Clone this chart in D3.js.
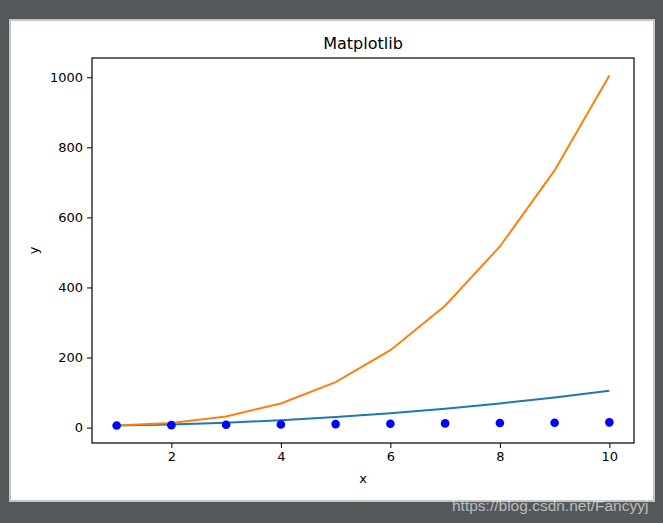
<!DOCTYPE html>
<html><head><meta charset="utf-8">
<script src="https://cdn.jsdelivr.net/npm/d3@7"></script>
<style>body{margin:0;background:#53595b;}svg{display:block;}</style>
</head><body>
<script>
const xs = [1,2,3,4,5,6,7,8,9,10];
const lineBlue = [6,9,14,21,30,41,54,69,86,105];
const lineOrange = [6,13,32,69,130,221,348,517,734,1005];
const dots = [6,7,8,9,10,11,12,13,14,15];
const xTicks = [2,4,6,8,10];
const yTicks = [0,200,400,600,800,1000];

const W=663,H=523;
const svg=d3.select("body").append("svg").attr("width",W).attr("height",H);
svg.append("rect").attr("width",W).attr("height",H).attr("fill","#53595b");
svg.append("rect").attr("x",10).attr("y",20).attr("width",644).attr("height",481)
  .attr("fill","#fff").attr("stroke","#c4c4c4").attr("stroke-width",2);

const L=92,R=634,T=58,B=443;
const x=d3.scaleLinear().domain([0.55,10.45]).range([L,R]);
const y=d3.scaleLinear().domain([-43.95,1054.95]).range([B,T]);
const font="DejaVu Sans";

const g=svg.append("g");
const clip=svg.append("clipPath").attr("id","c").append("rect").attr("x",L).attr("y",T).attr("width",R-L).attr("height",B-T);
const plot=g.append("g").attr("clip-path","url(#c)");

const line=d3.line().x((d,i)=>x(xs[i])).y(d=>y(d));
plot.append("path").datum(lineBlue).attr("d",line).attr("fill","none").attr("stroke","#1f77b4").attr("stroke-width",2);
plot.append("path").datum(lineOrange).attr("d",line).attr("fill","none").attr("stroke","#ff7f0e").attr("stroke-width",2);
plot.selectAll("circle").data(dots).join("circle").attr("cx",(d,i)=>x(xs[i])).attr("cy",d=>y(d)).attr("r",4.3).attr("fill","#0000ff");

const xa=g.append("g").attr("transform",`translate(0,${B})`).call(d3.axisBottom(x).tickValues(xTicks).tickSize(5).tickPadding(4).tickFormat(d3.format("d")));
const ya=g.append("g").attr("transform",`translate(${L},0)`).call(d3.axisLeft(y).tickValues(yTicks).tickSize(5).tickPadding(4).tickFormat(d3.format("d")));
[xa,ya].forEach(a=>{a.select(".domain").remove();a.selectAll("text").attr("font-family",font).attr("font-size",13).attr("fill","#000");a.selectAll("line").attr("stroke","#000").attr("stroke-width",1);});

g.append("rect").attr("x",L).attr("y",T).attr("width",R-L).attr("height",B-T).attr("fill","none").attr("stroke","#000").attr("stroke-width",1.2);

g.append("text").attr("x",(L+R)/2).attr("y",49).attr("text-anchor","middle").attr("font-family",font).attr("font-size",16).text("Matplotlib");
g.append("text").attr("x",(L+R)/2).attr("y",483).attr("text-anchor","middle").attr("font-family",font).attr("font-size",13).text("x");
g.append("text").attr("transform",`translate(38,${(T+B)/2}) rotate(-90)`).attr("text-anchor","middle").attr("font-family",font).attr("font-size",13).text("y");

svg.append("text").attr("x",452).attr("y",511).attr("font-family","Liberation Sans, Arial").attr("font-size",15.5).attr("fill","#ffffff").attr("fill-opacity",0.6).text("https://blog.csdn.net/Fancyyj");
</script>
</body></html>
